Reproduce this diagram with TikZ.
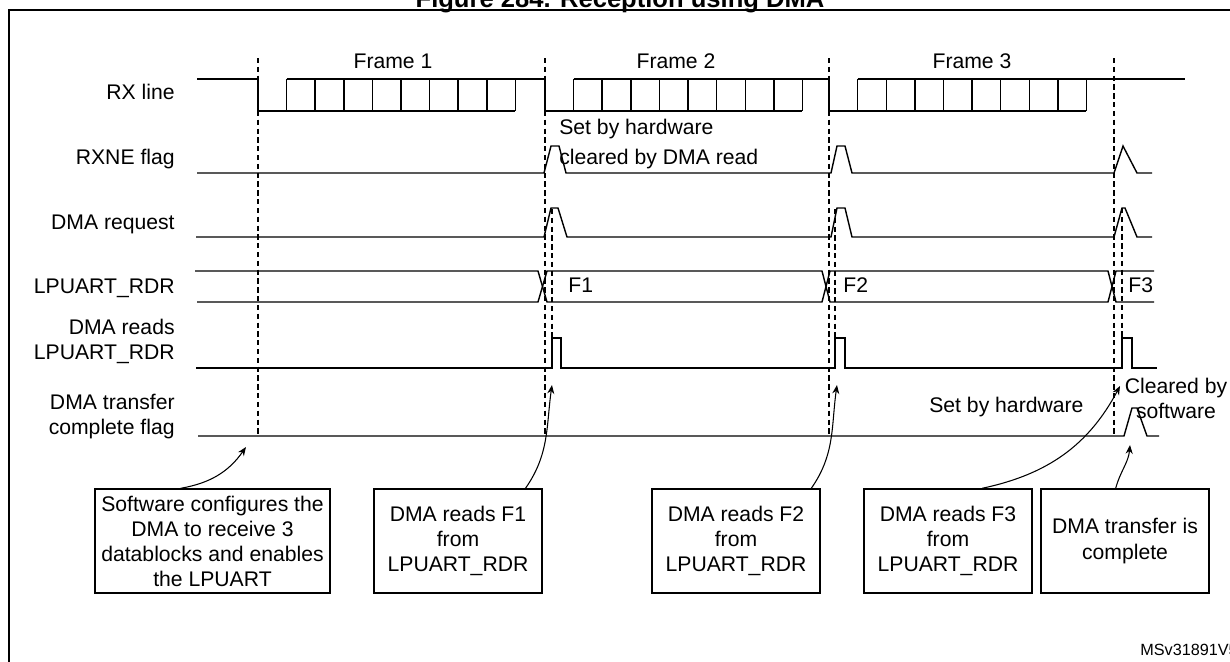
\documentclass[tikz,border=0pt]{standalone}
\usepackage{fontspec}
\setmainfont{Liberation Sans}
\usetikzlibrary{arrows.meta}

\begin{document}
\begin{tikzpicture}[x=0.567pt,y=-0.567pt,font=\fontsize{12}{14.2}\selectfont,wave/.style={line width=0.8pt},marker/.style={densely dashed,line width=0.6pt},sig/.style={anchor=east,align=right,inner sep=0pt},tag/.style={anchor=base west,inner sep=0pt},note/.style={draw,line width=0.8pt,align=center,minimum height=59pt,inner sep=2pt},pointer/.style={-{Stealth[length=5pt,width=4pt]},line width=0.6pt}]
\useasboundingbox (0,0) rectangle (1230,661);
\draw[line width=1pt] (9,700) -- (9,10) -- (1300,10);
\node[anchor=base,font=\bfseries\fontsize{14.5}{16}\selectfont] (title) at (620,7) {Figure 284. Reception using DMA};
% signal names
\node[sig] (rxlbl) at (175,92) {RX line};
\node[sig] (rxnelbl) at (175,159) {RXNE flag};
\node[sig] (reqlbl) at (175,224) {DMA request};
\node[sig] (rdrlbl) at (175,288) {LPUART\_RDR};
\node[sig] (readlbl) at (175,341) {DMA reads\\LPUART\_RDR};
\node[sig] (tclbl) at (175,417) {DMA transfer\\complete flag};
% frame boundaries
\foreach \x in {258,545,829,1114} \draw[marker] (\x,58) -- (\x,436);
\foreach \x/\t in {552/209,835/209,1122/208} \draw[marker] (\x,\t) -- (\x,338);
\node (fr1) at (393,61) {Frame 1};
\node (fr2) at (676,61) {Frame 2};
\node (fr3) at (972,61) {Frame 3};
% RX line
\draw[wave] (197,79) -- (258,79);
\foreach \s/\e in {258/545,545/829,829/1114}{
  \draw[wave] (\s,79) -- (\s,111) -- (\s+257,111);
  \draw[wave] (\s+28.6,79) -- (\e,79);
  \foreach \k in {1,...,9} \draw[wave] (\s+28.6*\k,79) -- (\s+28.6*\k,111);
}
\draw[wave] (1114,79) -- (1185,79);
% RXNE flag
\draw[wave] (197,173) -- (544,173) -- (551,146) -- (559,146) -- (566,173) -- (831,173) -- (837,146) -- (845,146) -- (852,173) -- (1114,173) -- (1123,146) -- (1137,173) -- (1152,173);
\node[tag] (sethw) at (559,134.5) {Set by hardware};
\node[tag] (clrdma) at (559,164.5) {cleared by DMA read};
% DMA request
\draw[wave] (196,237) -- (544,237) -- (551,208) -- (558,208) -- (567,237) -- (831,237) -- (837,208) -- (845,208) -- (852,237) -- (1114,237) -- (1122,208) -- (1125,208) -- (1137,237) -- (1152,237);
% LPUART_RDR
\draw[wave] (195,271) -- (538,271) -- (547,302) -- (822,302) -- (830,271) -- (1108,271) -- (1116,302) -- (1154,302);
\draw[wave] (197,302) -- (538,302) -- (547,271) -- (822,271) -- (830,302) -- (1108,302) -- (1116,271) -- (1154,271);
\node[tag] (dat1) at (568,292.5) {F1};
\node[tag] (dat2) at (843,292.5) {F2};
\node[tag] (dat3) at (1128,292.5) {F3};
% DMA reads LPUART_RDR
\draw[wave] (196,368) -- (552,368) -- (552,338) -- (561,338) -- (561,368) -- (835,368) -- (835,338) -- (845,338) -- (845,368) -- (1122,368) -- (1122,338) -- (1132,338) -- (1132,368) -- (1157,368);
% DMA transfer complete flag
\draw[wave] (198,436) -- (1124,436) -- (1132,408) -- (1137,408) -- (1147,436) -- (1159,436);
\node[tag] (sethw2) at (929,412.5) {Set by hardware};
\node[align=center,inner sep=0pt] (clrsw) at (1176,398) {Cleared by\\software};
% notes
\node[note,minimum width=133.2pt] (cfg) at (212.5,541) {Software configures the\\DMA to receive 3\\datablocks and enables\\the LPUART};
\node[note,minimum width=95.3pt] (rd1) at (458,541) {DMA reads F1\\from\\LPUART\_RDR};
\node[note,minimum width=95.3pt] (rd2) at (736,541) {DMA reads F2\\from\\LPUART\_RDR};
\node[note,minimum width=95.3pt] (rd3) at (948,541) {DMA reads F3\\from\\LPUART\_RDR};
\node[note,minimum width=95.3pt] (done) at (1125,541) {DMA transfer is\\complete};
\coordinate (p0) at (246,447);
\coordinate (p1) at (552,385);
\coordinate (p2) at (837,385);
\coordinate (p3) at (1120,386);
\coordinate (p4) at (1130,445);
\draw[pointer] (cfg.121) to[out=10,in=-125] (p0);
\draw[pointer] (rd1.38) to[out=55,in=-98] (p1);
\draw[pointer] (rd2.35) to[out=55,in=-98] (p2);
\draw[pointer] (rd3.57) to[out=12,in=-118] (p3);
\draw[pointer] (done.100) to[out=75,in=-95] (p4);
\node[anchor=base west,inner sep=0pt,font=\fontsize{9.2}{11}\selectfont] (ref) at (1140,655) {MSv31891V5};
\end{tikzpicture}
\end{document}
